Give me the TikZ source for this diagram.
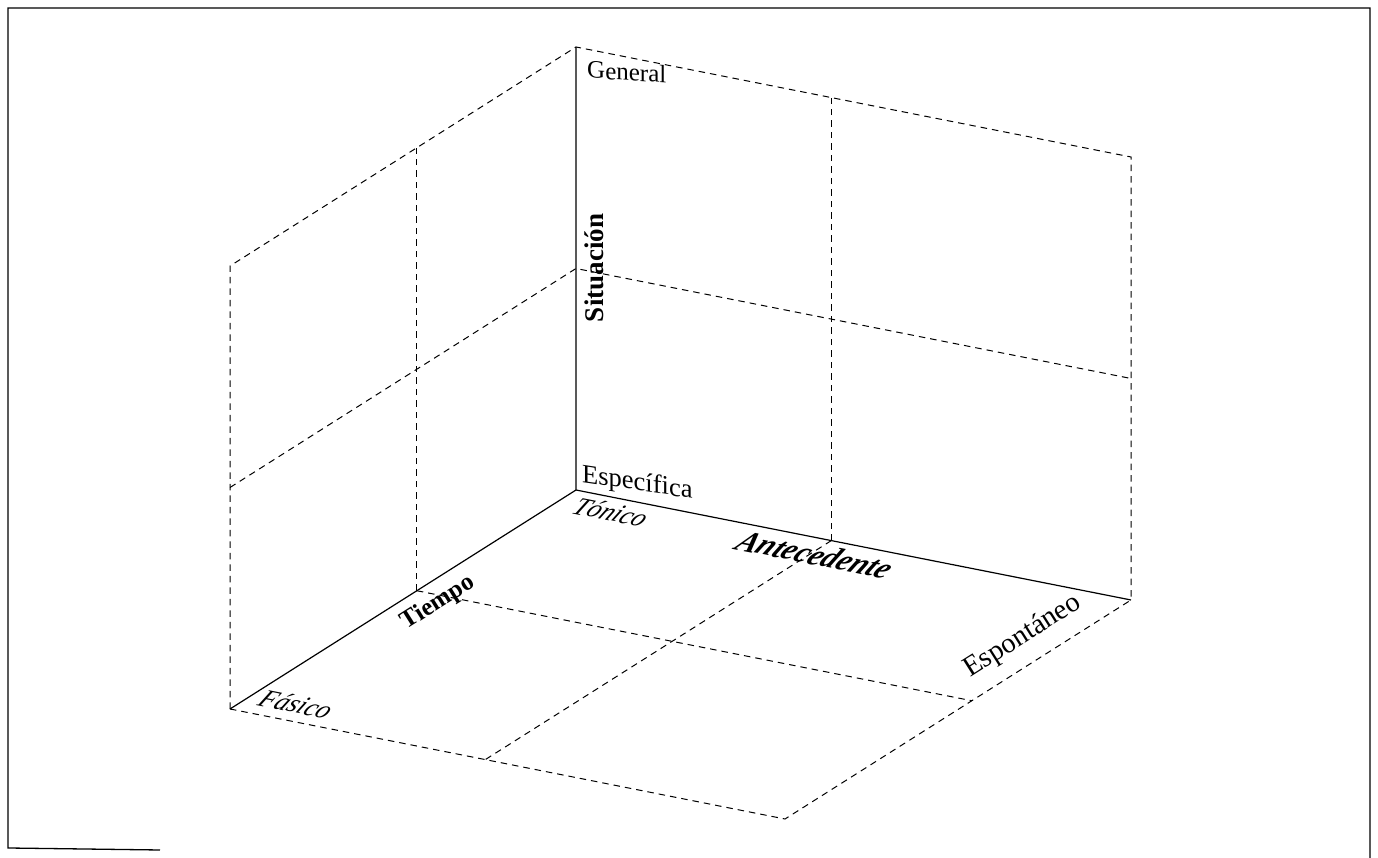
\documentclass[tikz,border=0pt]{standalone}
\usepackage{fontspec}
\setmainfont{Liberation Serif}
\usetikzlibrary{calc}
\begin{document}
\begin{tikzpicture}[x=1pt,y=1pt,
  axisline/.style={line width=1.2pt},
  gridline/.style={line width=1pt, dash pattern=on 6.5pt off 5pt},
  frameline/.style={line width=1.3pt},
  lab/.style={inner sep=0pt, font=\fontsize{25}{30}\selectfont},
  floorlab/.style={inner sep=0pt, rotate=-11.2, xslant=0.42},
]
\useasboundingbox (0,0) rectangle (1378,858);
% frame
\draw[frameline] (160,8) -- (8,10) -- (8,850) -- (1370,850) -- (1370,0);
% corners
\coordinate (O) at (576,368);
\coordinate (T) at (576,811);
\coordinate (R) at (1131,258);
\coordinate (L) at (230,149);
\coordinate (F) at (785,39);
\coordinate (TL) at (230,592);
\coordinate (TR) at (1131,701);
\coordinate (Ra) at ($(O)!0.46!(R)$);
\coordinate (La) at ($(O)!0.46!(L)$);
\coordinate (RaT) at ($(Ra)+(0,443)$);
\coordinate (LaT) at ($(La)+(0,443)$);
\coordinate (Om) at ($(O)!0.5!(T)$);
\coordinate (Rm) at ($(R)!0.5!(TR)$);
\coordinate (Lm) at ($(L)!0.5!(TL)$);
\coordinate (RaF) at ($(L)!0.46!(F)$);
\coordinate (LaF) at ($(R)!0.46!(F)$);
% dashed grid
\draw[gridline] (L) -- (TL) -- (T) -- (TR) -- (R);
\draw[gridline] (L) -- (F) -- (R);
\draw[gridline] (La) -- (LaT);
\draw[gridline] (Ra) -- (RaT);
\draw[gridline] (Lm) -- (Om) -- (Rm);
\draw[gridline] (La) -- (LaF);
\draw[gridline] (Ra) -- (RaF);
% axes
\draw[axisline] (T) -- (O) -- (R);
\draw[axisline] (O) -- (L);
% labels
\node[lab, anchor=base west, yslant=-0.06] (general) at (587,780) {General};
\node[lab, anchor=base west, yslant=-0.15, font=\fontsize{26.5}{30}\selectfont] (especifica) at (582,376) {Específica};
\node[lab, font=\fontsize{27}{30}\selectfont\bfseries, rotate=90] (situacion) at (594,590) {Situación};
\node[lab, floorlab, anchor=base west, font=\fontsize{26}{30}\selectfont\itshape] (tonico) at (570,345) {Tónico};
\node[lab, floorlab, anchor=base west, font=\fontsize{30.5}{32}\selectfont\bfseries\itshape] (antecedente) at (733,309) {Antecedente};
\node[lab, font=\fontsize{25}{30}\selectfont\bfseries, rotate=32.3] (tiempo) at (438,255) {Tiempo};
\node[lab, floorlab, anchor=base west, font=\fontsize{26}{30}\selectfont\itshape] (fasico) at (256,153) {Fásico};
\node[lab, anchor=base west, font=\fontsize{28.5}{30}\selectfont, rotate=32.3] (espontaneo) at (970,180) {Espontáneo};
\end{tikzpicture}
\end{document}
